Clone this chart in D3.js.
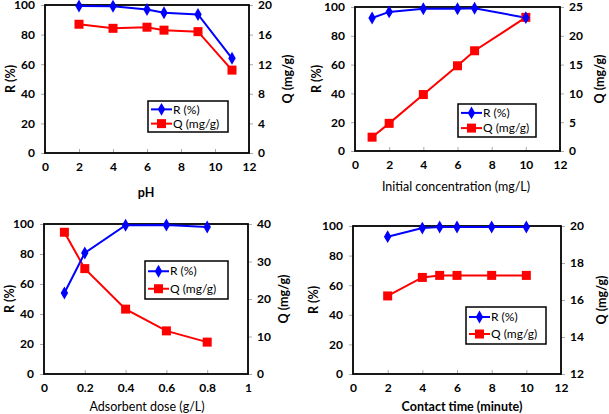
<!DOCTYPE html>
<html>
<head>
<meta charset="utf-8">
<script src="https://cdn.jsdelivr.net/npm/d3@7"></script>
<style>
  body { margin: 0; background: #fff; }
  svg text { font-family: Lato, "Liberation Sans", sans-serif; }
  .tick-label { font-size: 12px; font-weight: bold; fill: #000; }
  .leg { font-size: 12px; fill: #000; }
</style>
</head>
<body>
<div class="graph"></div>
<script>
// pH
var phX = [2, 4, 6, 7, 9, 11];
var phR = [99.3, 99.2, 97, 94.8, 93.6, 64];
var phQ = [17.4, 16.85, 17.0, 16.6, 16.4, 11.2];
// initial concentration
var concX = [1, 2, 4, 6, 7, 10];
var concR = [92.4, 96.6, 98.8, 98.8, 99.1, 92.6];
var concQ = [2.4, 4.8, 9.8, 14.8, 17.4, 23.2];
// adsorbent dose
var doseX = [0.1, 0.2, 0.4, 0.6, 0.8];
var doseR = [54, 80.7, 99.2, 99.3, 98];
var doseQ = [37.8, 28.1, 17.3, 11.5, 8.5];
// contact time
var timeX = [2, 4, 5, 6, 8, 10];
var timeR = [92.8, 98.6, 99.3, 99.3, 99.3, 99.3];
var timeQ = [16.22, 17.22, 17.33, 17.33, 17.33, 17.33];

var rTicks = [0, 20, 40, 60, 80, 100];
var legendNames = ['R (%)', 'Q (mg/g)'];

var panels = [
  { x: phX, r: phR, q: phQ, xDom: [0, 12], xTicks: [0, 2, 4, 6, 8, 10, 12], qDom: [0, 20], qTicks: [0, 4, 8, 12, 16, 20],
    box: [45, 5, 249, 153], title: 'pH', bold: true, tx: 146, ty: 197, rx: 11, qx: 288, leg: [148, 101, 80, 31] },
  { x: concX, r: concR, q: concQ, xDom: [0, 12], xTicks: [0, 2, 4, 6, 8, 10, 12], qDom: [0, 25], qTicks: [0, 5, 10, 15, 20, 25],
    box: [355, 7, 560, 151], title: 'Initial concentration (mg/L)', bold: false, tx: 456, ty: 191, rx: 317, qx: 600, leg: [458, 104, 78, 33] },
  { x: doseX, r: doseR, q: doseQ, xDom: [0, 1], xTicks: [0, 0.2, 0.4, 0.6, 0.8, 1], qDom: [0, 40], qTicks: [0, 10, 20, 30, 40],
    box: [44, 224, 248, 374], title: 'Adsorbent dose (g/L)', bold: false, tx: 147, ty: 411, rx: 10, qx: 284, leg: [145, 261, 83, 38] },
  { x: timeX, r: timeR, q: timeQ, xDom: [0, 12], xTicks: [0, 2, 4, 6, 8, 10, 12], qDom: [12, 20], qTicks: [12, 14, 16, 18, 20],
    box: [353, 226, 561, 374], title: 'Contact time (minute)', bold: true, tx: 462, ty: 411, rx: 314, qx: 602, leg: [466, 307, 80, 37] }
];

var svg = d3.select('.graph').append('svg')
  .attr('width', 609).attr('height', 414);

var diamond = d3.symbol().type(d3.symbolDiamond).size(48);

panels.forEach(function (p) {
  var x = d3.scaleLinear().domain(p.xDom).range([p.box[0], p.box[2]]);
  var yR = d3.scaleLinear().domain([0, 100]).range([p.box[3], p.box[1]]);
  var yQ = d3.scaleLinear().domain(p.qDom).range([p.box[3], p.box[1]]);
  var g = svg.append('g');

  // axes
  var fmt = function (d) { return d; };
  var ax = g.append('g').attr('transform', 'translate(0,' + p.box[3] + ')')
    .call(d3.axisBottom(x).tickValues(p.xTicks).tickSizeInner(-4).tickSizeOuter(0).tickPadding(9).tickFormat(fmt));
  var al = g.append('g').attr('transform', 'translate(' + p.box[0] + ',0)')
    .call(d3.axisLeft(yR).tickValues(rTicks).tickSizeInner(4).tickSizeOuter(0).tickPadding(6).tickFormat(fmt));
  var ar = g.append('g').attr('transform', 'translate(' + p.box[2] + ',0)')
    .call(d3.axisRight(yQ).tickValues(p.qTicks).tickSizeInner(4).tickSizeOuter(0).tickPadding(5).tickFormat(fmt));
  [ax, al, ar].forEach(function (a) {
    a.select('.domain').remove();
    a.selectAll('line').attr('stroke', '#aaa');
    a.selectAll('text').attr('class', 'tick-label').attr('font-family', null).attr('font-size', null);
  });

  // frame
  g.append('rect')
    .attr('x', p.box[0]).attr('y', p.box[1])
    .attr('width', p.box[2] - p.box[0]).attr('height', p.box[3] - p.box[1])
    .attr('fill', 'none').attr('stroke', '#000').attr('stroke-width', 1.8);

  // titles
  g.append('text').attr('x', p.tx).attr('y', p.ty).attr('text-anchor', 'middle')
    .style('font-size', '12.5px').style('font-weight', p.bold ? 'bold' : 'normal').text(p.title);
  g.append('text').attr('transform', 'translate(' + p.rx + ',' + ((p.box[1] + p.box[3]) / 2) + ') rotate(-90)')
    .attr('dy', '0.35em').attr('text-anchor', 'middle')
    .style('font-size', '12.5px').style('font-weight', 'bold').text('R (%)');
  g.append('text').attr('transform', 'translate(' + p.qx + ',' + ((p.box[1] + p.box[3]) / 2) + ') rotate(-90)')
    .attr('dy', '0.35em').attr('text-anchor', 'middle')
    .style('font-size', '12.5px').style('font-weight', 'bold').text('Q (mg/g)');

  // series
  var ptsR = p.x.map(function (v, i) { return [x(v), yR(p.r[i])]; });
  var ptsQ = p.x.map(function (v, i) { return [x(v), yQ(p.q[i])]; });
  var line = d3.line();
  g.append('path').attr('d', line(ptsQ)).attr('fill', 'none').attr('stroke', '#ff0000').attr('stroke-width', 2);
  g.append('path').attr('d', line(ptsR)).attr('fill', 'none').attr('stroke', '#0000ff').attr('stroke-width', 2);
  g.selectAll('rect.q').data(ptsQ).enter().append('rect').attr('class', 'q')
    .attr('x', function (d) { return d[0] - 4.5; }).attr('y', function (d) { return d[1] - 4.5; })
    .attr('width', 9).attr('height', 9).attr('fill', '#ff0000');
  g.selectAll('path.r').data(ptsR).enter().append('path').attr('class', 'r')
    .attr('d', diamond).attr('fill', '#0000ff')
    .attr('transform', function (d) { return 'translate(' + d[0] + ',' + d[1] + ')'; });

  // legend
  var L = p.leg;
  var lg = g.append('g').attr('transform', 'translate(' + L[0] + ',' + L[1] + ')');
  lg.append('rect').attr('width', L[2]).attr('height', L[3])
    .attr('fill', '#fff').attr('stroke', '#000').attr('stroke-width', 1.5);
  legendNames.forEach(function (name, i) {
    var yy = L[3] * (i === 0 ? 0.27 : 0.73);
    var col = i === 0 ? '#0000ff' : '#ff0000';
    lg.append('line').attr('x1', 3).attr('x2', 24).attr('y1', yy).attr('y2', yy)
      .attr('stroke', col).attr('stroke-width', 2);
    if (i === 0) {
      lg.append('path').attr('d', diamond).attr('fill', col).attr('transform', 'translate(13.5,' + yy + ')');
    } else {
      lg.append('rect').attr('x', 9).attr('y', yy - 4.5).attr('width', 9).attr('height', 9).attr('fill', col);
    }
    lg.append('text').attr('class', 'leg').attr('x', 25).attr('y', yy).attr('dy', '0.35em').text(name);
  });
});
</script>
</body>
</html>
